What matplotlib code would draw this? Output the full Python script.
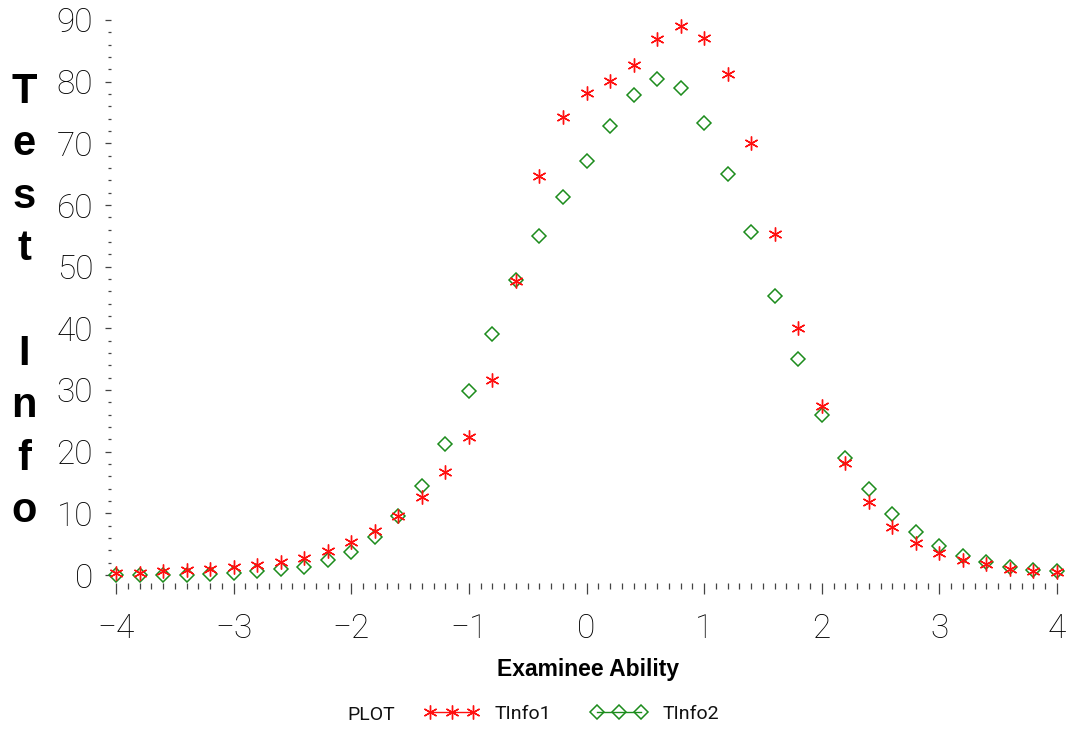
import numpy as np
import matplotlib
matplotlib.use('Agg')
import matplotlib.pyplot as plt
from matplotlib.lines import Line2D
from matplotlib.ticker import MultipleLocator

# examinee ability grid and the two test information curves
theta = [-4.0, -3.8, -3.6, -3.4, -3.2, -3.0, -2.8, -2.6, -2.4, -2.2,
         -2.0, -1.8, -1.6, -1.4, -1.2, -1.0, -0.8, -0.6, -0.4, -0.2,
         0.0, 0.2, 0.4, 0.6, 0.8, 1.0, 1.2, 1.4, 1.6, 1.8,
         2.0, 2.2, 2.4, 2.6, 2.8, 3.0, 3.2, 3.4, 3.6, 3.8, 4.0]
tinfo1 = [0.27, 0.3, 0.6, 0.8, 1.0, 1.25, 1.7, 2.15, 2.8, 3.9,
          5.3, 7.2, 9.6, 12.7, 16.7, 22.3, 31.7, 47.7, 64.7, 74.2,
          78.1, 80.1, 82.7, 87.0, 89.0, 87.1, 81.3, 70.1, 55.3, 40.0,
          27.4, 18.1, 11.9, 7.8, 5.2, 3.5, 2.4, 1.8, 1.0, 0.7, 0.5]
tinfo2 = [0.02, 0.0, 0.0, 0.05, 0.2, 0.4, 0.6, 0.9, 1.35, 2.4,
          3.8, 6.1, 9.6, 14.5, 21.3, 29.9, 39.1, 47.8, 54.9, 61.3,
          67.1, 72.8, 77.8, 80.4, 78.9, 73.3, 65.1, 55.6, 45.3, 35.0,
          25.9, 19.0, 13.9, 9.9, 7.0, 4.65, 3.1, 2.1, 1.25, 0.86, 0.6]

xticks = [-4, -3, -2, -1, 0, 1, 2, 3, 4]
xlabels = ['\u22124', '\u22123', '\u22122', '\u22121', '0', '1', '2', '3', '4']
yticks = [0, 10, 20, 30, 40, 50, 60, 70, 80, 90]

red = '#ff1010'
green = '#1c8c1c'
thin = {'family': ['Roboto', 'DejaVu Sans'], 'weight': 'light'}

fig = plt.figure(figsize=(10.69, 7.36), dpi=100)
W, H = 1069.0, 736.0
ax = fig.add_axes([116 / W, (H - 575) / H, (1057 - 116) / W, (575 - 20) / H])

ax.plot(theta, tinfo2, linestyle='none', marker='D', ms=7, mew=1.1,
        mfc='none', mec=green, clip_on=False, zorder=2)
ax.plot(theta, tinfo1, linestyle='none', marker=(6, 2, 0), ms=10, mew=1.0,
        color=red, clip_on=False, zorder=3)

ax.set_xlim(-4, 4)
ax.set_ylim(0, 90)

# bare tick marks only, pushed away from the data area
for s in ax.spines.values():
    s.set_visible(False)
ax.spines['left'].set_position(('outward', 3.6))
ax.spines['bottom'].set_position(('outward', 5.8))

ax.set_xticks(xticks, labels=xlabels, fontsize=24, **thin)
ax.set_yticks(yticks, labels=[str(v) for v in yticks], fontsize=24, **thin)
ax.xaxis.set_minor_locator(MultipleLocator(0.1))
ax.yaxis.set_minor_locator(MultipleLocator(2))
ax.tick_params(axis='x', which='major', length=7.9, width=0.9, color='#444444', pad=13.5)
ax.tick_params(axis='x', which='minor', length=4.3, width=0.9, color='#444444')
ax.tick_params(axis='y', which='major', length=4.3, width=0.9, color='#444444', pad=8.6)
ax.tick_params(axis='y', which='minor', length=2.2, width=0.9, color='#444444')

# vertical stacked y label
ylab = 'Test Info'
base = 103
for i, ch in enumerate(ylab):
    if ch == ' ':
        continue
    fig.text(24 / W, 1 - (base + i * 52.4) / H, ch, ha='center', va='baseline',
             fontsize=30, fontweight='bold', family='Liberation Sans')

fig.text(588 / W, 1 - 676 / H, 'Examinee Ability', ha='center', va='baseline',
         fontsize=16.5, fontweight='bold', family='Liberation Sans')

# legend row at the bottom
fig.text(347 / W, 1 - 715 / H, 'PLOT', ha='left', va='center', fontsize=14,
         family=['Roboto', 'DejaVu Sans'], color='#111111')
h1 = Line2D([], [], color=red, lw=1.0, marker=(6, 2, 0), ms=10, mew=1.0)
h2 = Line2D([], [], color=green, lw=1.0, marker='D', ms=7, mew=1.1, mfc='none', mec=green)
leg = ax.legend(handles=[h1, h2], labels=['TInfo1', 'TInfo2'], loc='center left',
                bbox_to_anchor=(424 / W, 1 - 714 / H), bbox_transform=fig.transFigure,
                ncol=2, numpoints=3, frameon=False, handlelength=2.83,
                handletextpad=0.82, columnspacing=2.06, borderpad=0, borderaxespad=0,
                prop={'family': ['Roboto', 'DejaVu Sans'], 'size': 14})
for t in leg.get_texts():
    t.set_color('#111111')

fig.savefig('out.png', dpi=100)
